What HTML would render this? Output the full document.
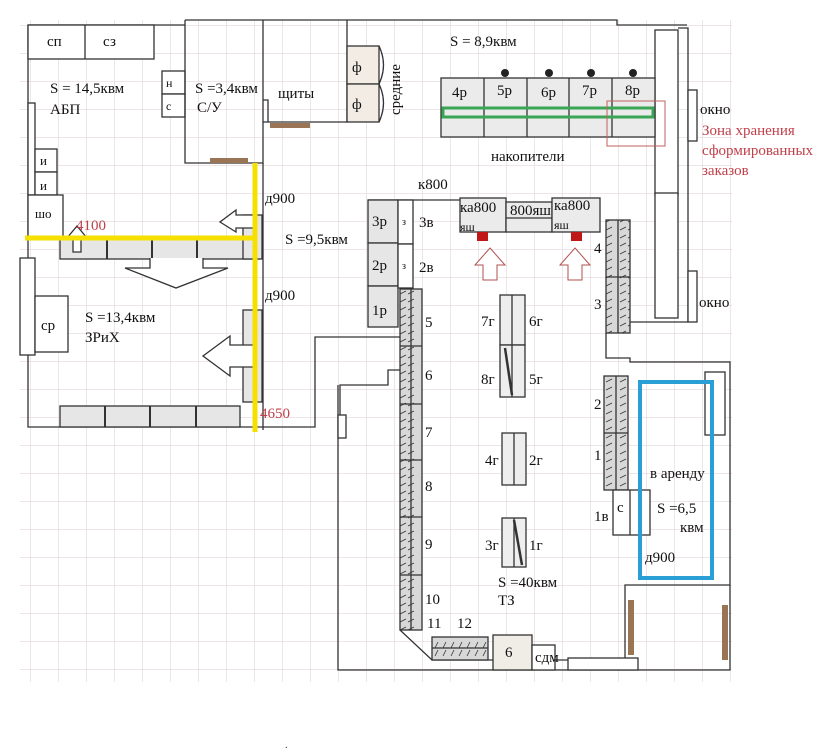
<!DOCTYPE html>
<html><head><meta charset="utf-8"><style>
body{margin:0;background:#fff;}
svg{display:block;font-family:"Liberation Serif","DejaVu Serif",serif;}
</style></head><body>
<svg width="839" height="751" viewBox="0 0 839 751" xmlns="http://www.w3.org/2000/svg">
<defs>
<pattern id="g" x="2" y="25" width="28" height="28" patternUnits="userSpaceOnUse">
<path d="M0 0H28M0 0V28" stroke="#e3d6d6" stroke-width="1.2" fill="none"/>
</pattern>
<pattern id="sh" x="0" y="0" width="22" height="8" patternUnits="userSpaceOnUse">
<rect width="22" height="8" fill="#d8d8d8"/><path d="M4 6L10 3M12 6L18 3" stroke="#333" stroke-width="0.8"/>
</pattern>
<pattern id="shh" x="0" y="0" width="8" height="22" patternUnits="userSpaceOnUse">
<rect width="8" height="22" fill="#d8d8d8"/><path d="M6 4L3 10M6 12L3 18" stroke="#333" stroke-width="0.8"/>
</pattern>
</defs>
<rect x="20" y="20" width="712" height="662" fill="url(#g)"/>
<g fill="none" stroke="#333" stroke-width="1.3">
<path d="M28 25H185M185 20H617V25H687M28 25V427H315V337H400M340 427V385H388V370H400"/>
<rect x="28" y="25" width="126" height="34" fill="#fff"/>
<line x1="85" y1="25" x2="85" y2="59"/>
<rect x="162" y="71" width="23" height="23" fill="#fff"/>
<rect x="162" y="94" width="23" height="23" fill="#fff"/>
<path d="M185 20V163H263V20M263 20V122H347V20"/>
<path d="M263 100H268V122"/>
<rect x="28" y="103" width="7" height="92" fill="#fff"/>
<rect x="35" y="149" width="22" height="23" fill="#fff"/>
<rect x="35" y="172" width="22" height="23" fill="#fff"/>
<rect x="28" y="195" width="35" height="43" fill="#fff"/>
<rect x="20" y="258" width="15" height="97" fill="#fff"/>
<rect x="35" y="296" width="33" height="56" fill="#fff"/>
<rect x="347" y="46" width="32" height="38" fill="#f2ece4"/>
<rect x="347" y="84" width="32" height="38" fill="#f2ece4"/>
<path d="M379 46Q388 65 379 84Q388 103 379 122"/>
<line x1="263" y1="163" x2="263" y2="430"/>
<rect x="60" y="238" width="198" height="21" fill="#e6e6e6"/>
<path d="M107 238V259M152 238V259M197 238V259" stroke-width="2"/>
<rect x="60" y="406" width="180" height="21" fill="#e6e6e6"/>
<path d="M105 406V427M150 406V427M196 406V427" stroke-width="2"/>
<rect x="243" y="215" width="19" height="44" fill="#e6e6e6"/>
<rect x="243" y="310" width="19" height="92" fill="#e6e6e6"/>
<rect x="655" y="30" width="23" height="165" fill="#fff"/>
<rect x="655" y="193" width="23" height="125" fill="#fff"/>
<path d="M678 28H688V322H630"/>
<rect x="688" y="90" width="9" height="51" fill="#fff"/>
<rect x="688" y="271" width="9" height="51" fill="#fff"/>
<path d="M606 333V358H630V362H730V670H338V385"/>
<rect x="338" y="415" width="8" height="23" fill="#fff"/>
<rect x="705" y="372" width="20" height="63" fill="#fff"/>
<path d="M625 670V585H730"/>
<rect x="441" y="78" width="214" height="59" fill="#ebebeb"/>
<path d="M484 78V137M527 78V137M569 78V137M612 78V137"/>
<path d="M368 200H460"/>
<rect x="368" y="200" width="30" height="43" fill="#e6e6e6"/>
<rect x="368" y="243" width="30" height="43" fill="#e6e6e6"/>
<rect x="368" y="286" width="30" height="41" fill="#e6e6e6"/>
<rect x="398" y="200" width="15" height="44" fill="#fff"/>
<rect x="398" y="244" width="15" height="44" fill="#fff"/>
<rect x="460" y="198" width="46" height="34" fill="#ebebeb"/>
<rect x="506" y="202" width="46" height="30" fill="#ebebeb"/>
<line x1="506" y1="218" x2="552" y2="218"/>
<rect x="552" y="198" width="48" height="34" fill="#ebebeb"/>
<rect x="400" y="289" width="22" height="341" fill="url(#sh)"/>
<line x1="411" y1="289" x2="411" y2="630"/>
<path d="M400 346H422M400 404H422M400 460H422M400 517H422M400 575H422"/>
<rect x="606" y="220" width="24" height="113" fill="url(#sh)"/>
<line x1="618" y1="220" x2="618" y2="333"/><line x1="606" y1="277" x2="630" y2="277"/>
<rect x="604" y="376" width="24" height="114" fill="url(#sh)"/>
<line x1="616" y1="376" x2="616" y2="490"/><line x1="604" y1="433" x2="628" y2="433"/>
<rect x="613" y="490" width="37" height="45" fill="#fff"/>
<line x1="630" y1="490" x2="630" y2="535"/>
<path d="M400 630L432 660H600"/>
<rect x="432" y="637" width="56" height="23" fill="url(#shh)"/>
<line x1="432" y1="648" x2="488" y2="648"/>
<rect x="493" y="635" width="39" height="35" fill="#f0ece6"/>
<rect x="532" y="645" width="23" height="25" fill="#fff"/>
<rect x="568" y="658" width="70" height="12" fill="#fff"/>
<rect x="500" y="295" width="25" height="50" fill="#eee"/><line x1="512" y1="295" x2="512" y2="345"/>
<rect x="500" y="345" width="25" height="52" fill="#eee"/><line x1="512" y1="345" x2="512" y2="397"/>
<rect x="502" y="433" width="24" height="52" fill="#eee"/><line x1="514" y1="433" x2="514" y2="485"/>
<rect x="502" y="518" width="24" height="49" fill="#eee"/><line x1="514" y1="518" x2="514" y2="567"/>
<path d="M150 258V268H125L176 288L228 268H203V258" fill="#fff"/>
<path d="M73 252V238H67L77 226L87 238H81V252Z" fill="#fff"/>
<path d="M255 215H236V210L220 222L236 232V228H255Z" fill="#fff"/>
<path d="M255 345H230V336L203 356L230 376V367H255Z" fill="#fff"/>
</g>
<g stroke="#333" stroke-width="2.5"><line x1="505" y1="348" x2="512" y2="395"/><line x1="514" y1="520" x2="522" y2="565"/></g>
<g fill="#222"><circle cx="505" cy="73" r="4"/><circle cx="549" cy="73" r="4"/><circle cx="591" cy="73" r="4"/><circle cx="633" cy="73" r="4"/></g>
<g fill="#9a7555"><rect x="210" y="158" width="38" height="5"/><rect x="270" y="123" width="40" height="5"/><rect x="628" y="600" width="6" height="55"/><rect x="722" y="605" width="6" height="55"/></g>
<rect x="443" y="108" width="210" height="9" fill="none" stroke="#3aa655" stroke-width="3"/>
<rect x="607" y="101" width="58" height="45" fill="none" stroke="#c06060" stroke-width="1"/>
<g fill="#c01818"><rect x="477" y="232" width="11" height="9"/><rect x="571" y="232" width="11" height="9"/></g>
<g fill="#fff" stroke="#b05050" stroke-width="1"><path d="M483 280V265H475L490 248L505 265H497V280Z"/><path d="M568 280V265H560L575 248L590 265H582V280Z"/></g>
<g stroke="#f5e000" stroke-width="5"><line x1="25" y1="238" x2="257" y2="238"/><line x1="255" y1="163" x2="255" y2="432"/></g>
<rect x="640" y="382" width="72" height="196" fill="none" stroke="#2a9fd6" stroke-width="4"/>
<g font-size="15" fill="#111">
<text x="47" y="46">сп</text><text x="103" y="46">сз</text>
<text x="50" y="93">S = 14,5квм</text><text x="50" y="114">АБП</text>
<text x="166" y="87" font-size="12">н</text><text x="166" y="110" font-size="12">с</text>
<text x="195" y="93">S =3,4квм</text><text x="197" y="112">С/У</text>
<text x="278" y="98">щиты</text>
<text x="352" y="72">ф</text><text x="352" y="109">ф</text>
<text transform="translate(400,115) rotate(-90)">средние</text>
<text x="40" y="165" font-size="13">и</text><text x="40" y="190" font-size="13">и</text>
<text x="35" y="218" font-size="13">шо</text>
<text x="265" y="203">д900</text><text x="265" y="300">д900</text>
<text x="285" y="244">S =9,5квм</text>
<text x="85" y="322">S =13,4квм</text><text x="85" y="342">ЗРиХ</text>
<text x="41" y="330">ср</text>
<text x="450" y="46">S = 8,9квм</text>
<text x="452" y="97">4р</text><text x="497" y="95">5р</text><text x="541" y="97">6р</text><text x="582" y="95">7р</text><text x="625" y="95">8р</text>
<text x="491" y="161">накопители</text>
<text x="700" y="114">окно</text><text x="699" y="307">окно</text>
<text x="418" y="189">к800</text>
<text x="372" y="226">3р</text><text x="372" y="270">2р</text><text x="372" y="315">1р</text>
<text x="402" y="225" font-size="10">з</text><text x="402" y="269" font-size="10">з</text>
<text x="419" y="227">3в</text><text x="419" y="272">2в</text>
<text x="460" y="212">ка800</text><text x="460" y="231" font-size="12">яш</text>
<text x="510" y="215">800яш</text>
<text x="554" y="210">ка800</text><text x="554" y="229" font-size="12">яш</text>
<text x="594" y="253">4</text><text x="594" y="309">3</text>
<text x="425" y="327">5</text><text x="425" y="380">6</text><text x="425" y="437">7</text><text x="425" y="491">8</text><text x="425" y="549">9</text><text x="425" y="604">10</text>
<text x="427" y="628">11</text><text x="457" y="628">12</text>
<text x="481" y="326">7г</text><text x="529" y="326">6г</text>
<text x="481" y="384">8г</text><text x="529" y="384">5г</text>
<text x="485" y="465">4г</text><text x="529" y="465">2г</text>
<text x="485" y="550">3г</text><text x="529" y="550">1г</text>
<text x="498" y="587">S =40квм</text><text x="498" y="605">ТЗ</text>
<text x="505" y="657">6</text><text x="535" y="662">сдм</text>
<text x="594" y="409">2</text><text x="594" y="460">1</text>
<text x="594" y="521">1в</text><text x="617" y="512">с</text>
<text x="650" y="478">в аренду</text><text x="657" y="513">S =6,5</text><text x="680" y="532">квм</text>
<text x="645" y="562">д900</text>
</g>
<g fill="#c0404a" font-size="15">
<text x="76" y="230">4100</text><text x="260" y="418">4650</text>
<text x="702" y="135">Зона хранения</text><text x="702" y="155">сформированных</text><text x="702" y="175">заказов</text>
</g>
<text x="285" y="748" font-size="10" fill="#333">.</text>
</svg>
</body></html>
